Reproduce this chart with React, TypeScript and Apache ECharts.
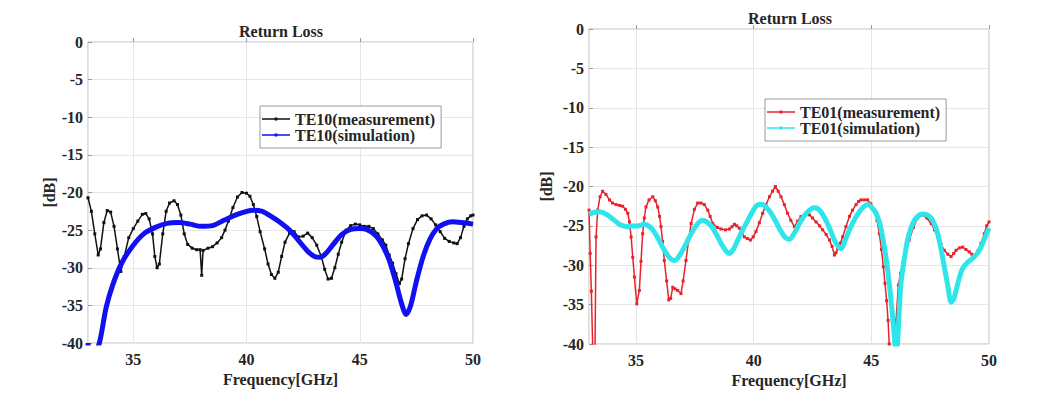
import React, { useEffect, useRef } from "react";
import * as echarts from "echarts";

const TITLE = "Return Loss";
const X_NAME = "Frequency[GHz]";
const Y_NAME = "[dB]";
const NAMES_LEFT = ["TE10(measurement)", "TE10(simulation)"];
const NAMES_RIGHT = ["TE01(measurement)", "TE01(simulation)"];

const te10Meas: number[][] = [
  [33.0,-20.7],[33.15,-22.5],[33.3,-25.5],[33.45,-28.3],[33.55,-27.5],[33.7,-24.0],[33.85,-22.4],[34.0,-22.6],[34.15,-24.5],[34.3,-27.5],[34.45,-30.5],[34.6,-28.5],[34.8,-26.0],[35.0,-24.8],[35.2,-23.8],[35.4,-22.9],[35.55,-22.8],[35.7,-23.5],[35.85,-25.5],[35.95,-28.5],[36.05,-30.0],[36.15,-29.5],[36.3,-25.5],[36.45,-22.5],[36.6,-21.4],[36.8,-21.1],[36.95,-21.6],[37.1,-23.0],[37.25,-25.5],[37.4,-26.9],[37.6,-27.4],[37.8,-27.6],[37.95,-27.6],[38.02,-31.0],[38.08,-27.7],[38.3,-27.4],[38.5,-27.2],[38.7,-26.7],[38.9,-26.0],[39.05,-25.0],[39.2,-23.8],[39.4,-22.0],[39.6,-20.6],[39.8,-20.0],[40.0,-20.1],[40.15,-20.5],[40.3,-21.6],[40.45,-23.2],[40.6,-25.2],[40.8,-27.5],[40.95,-29.5],[41.1,-30.9],[41.25,-31.4],[41.4,-30.6],[41.55,-28.5],[41.7,-26.6],[41.9,-25.4],[42.1,-25.2],[42.3,-25.9],[42.5,-25.8],[42.7,-25.4],[42.9,-26.0],[43.1,-27.0],[43.3,-28.5],[43.45,-30.2],[43.6,-31.5],[43.75,-31.4],[43.9,-30.0],[44.05,-28.2],[44.2,-26.6],[44.4,-25.0],[44.6,-24.4],[44.8,-24.2],[45.0,-24.3],[45.2,-24.5],[45.4,-24.5],[45.6,-24.8],[45.8,-25.5],[46.0,-26.3],[46.15,-27.0],[46.3,-28.3],[46.45,-29.4],[46.6,-30.8],[46.75,-32.1],[46.85,-31.5],[47.0,-28.8],[47.15,-26.8],[47.35,-24.8],[47.55,-23.6],[47.75,-23.1],[47.95,-23.0],[48.15,-23.5],[48.35,-24.3],[48.55,-25.2],[48.75,-26.1],[48.95,-26.5],[49.15,-26.7],[49.3,-26.8],[49.45,-26.0],[49.6,-24.5],[49.75,-23.5],[49.9,-23.1],[50.0,-23.0]
];

const te10Sim: number[][] = [
  [33.0,-40],[33.1,-43],[33.5,-40],[33.8,-35.3],[34.1,-32.2],[34.5,-29.3],[35.0,-27.0],[35.5,-25.4],[36.0,-24.6],[36.5,-24.1],[37.0,-24.0],[37.5,-24.2],[38.0,-24.5],[38.5,-24.4],[39.0,-23.7],[39.5,-23.0],[40.0,-22.5],[40.3,-22.35],[40.7,-22.5],[41.0,-23.0],[41.4,-23.8],[41.9,-25.0],[42.3,-26.4],[42.7,-27.8],[43.0,-28.5],[43.25,-28.6],[43.5,-28.1],[43.8,-27.0],[44.2,-25.6],[44.6,-24.9],[45.0,-24.8],[45.3,-24.9],[45.7,-25.7],[46.0,-27.0],[46.3,-29.0],[46.6,-32.0],[46.85,-34.8],[47.05,-36.2],[47.25,-35.0],[47.5,-31.8],[47.8,-28.5],[48.1,-26.2],[48.4,-24.8],[48.7,-24.2],[49.1,-23.9],[49.5,-24.0],[50.0,-24.2]
];

const te01Meas: number[][] = [
  [33.0,-23.0],[33.05,-28.5],[33.1,-33.3],[33.17,-42],[33.25,-42],[33.3,-26.4],[33.37,-23.0],[33.47,-21.3],[33.58,-20.6],[33.72,-21.0],[33.87,-21.7],[34.0,-22.1],[34.15,-22.3],[34.3,-22.4],[34.43,-22.5],[34.55,-22.9],[34.65,-23.4],[34.72,-24.5],[34.79,-26.4],[34.86,-29.0],[34.93,-31.5],[35.03,-34.9],[35.14,-33.2],[35.21,-29.5],[35.28,-26.0],[35.35,-24.0],[35.42,-22.6],[35.55,-21.7],[35.71,-21.3],[35.82,-21.8],[35.92,-22.6],[36.0,-23.8],[36.06,-25.1],[36.13,-27.0],[36.2,-29.4],[36.3,-32.0],[36.39,-34.4],[36.47,-34.2],[36.56,-32.8],[36.66,-33.0],[36.77,-33.2],[36.91,-33.6],[37.0,-32.0],[37.12,-29.4],[37.23,-26.9],[37.34,-24.7],[37.48,-22.9],[37.62,-22.1],[37.76,-22.1],[37.9,-22.3],[38.05,-23.0],[38.15,-23.8],[38.26,-24.7],[38.45,-25.2],[38.61,-25.4],[38.8,-25.5],[38.97,-25.4],[39.08,-25.1],[39.18,-24.8],[39.28,-25.0],[39.39,-25.3],[39.5,-25.9],[39.6,-26.4],[39.73,-26.6],[39.86,-26.8],[39.98,-26.4],[40.1,-25.7],[40.24,-24.6],[40.38,-23.4],[40.52,-22.3],[40.67,-21.3],[40.8,-20.6],[40.92,-20.0],[41.04,-20.6],[41.16,-21.3],[41.3,-22.3],[41.44,-23.4],[41.58,-24.3],[41.73,-25.1],[41.87,-24.4],[42.01,-23.8],[42.2,-23.6],[42.37,-23.6],[42.5,-24.0],[42.65,-24.5],[42.8,-25.0],[42.93,-25.5],[43.08,-26.1],[43.22,-26.8],[43.33,-27.6],[43.43,-28.7],[43.5,-28.4],[43.57,-27.9],[43.68,-27.2],[43.78,-26.4],[43.92,-25.1],[44.07,-23.8],[44.2,-23.0],[44.35,-22.3],[44.46,-21.9],[44.56,-21.7],[44.7,-21.7],[44.84,-21.7],[44.98,-22.2],[45.13,-23.0],[45.24,-24.3],[45.34,-26.0],[45.43,-28.0],[45.51,-30.2],[45.58,-32.3],[45.65,-34.5],[45.71,-37.0],[45.76,-40.0],[45.85,-44],[45.95,-43],[46.05,-37],[46.15,-32.5],[46.24,-31.0],[46.33,-29.8],[46.47,-28.2],[46.61,-26.8],[46.79,-25.2],[46.97,-24.0],[47.08,-23.7],[47.18,-23.6],[47.36,-24.0],[47.54,-24.7],[47.68,-25.5],[47.82,-26.4],[47.96,-27.3],[48.1,-28.1],[48.25,-28.6],[48.39,-28.9],[48.5,-28.5],[48.6,-28.1],[48.74,-27.8],[48.88,-27.7],[49.02,-28.0],[49.16,-28.3],[49.27,-28.6],[49.38,-28.9],[49.52,-28.2],[49.66,-27.2],[49.8,-26.0],[49.9,-25.0],[50.0,-24.5]
];

const te01Sim: number[][] = [
  [33.0,-23.5],[33.2,-23.3],[33.44,-23.2],[33.65,-23.4],[33.87,-23.8],[34.08,-24.3],[34.29,-24.8],[34.47,-25.0],[34.65,-25.1],[34.85,-25.0],[35.07,-25.0],[35.35,-24.8],[35.53,-25.0],[35.71,-25.5],[35.92,-26.5],[36.13,-27.7],[36.38,-28.9],[36.63,-29.4],[36.84,-28.8],[37.05,-27.7],[37.27,-26.4],[37.48,-25.3],[37.65,-24.6],[37.83,-24.3],[38.0,-24.5],[38.19,-25.0],[38.4,-26.0],[38.61,-27.2],[38.8,-28.1],[38.97,-28.5],[39.15,-27.9],[39.32,-26.8],[39.55,-25.4],[39.75,-24.3],[39.93,-23.3],[40.1,-22.5],[40.25,-22.3],[40.38,-22.3],[40.55,-22.7],[40.74,-23.4],[40.95,-24.5],[41.16,-25.7],[41.35,-26.5],[41.52,-26.7],[41.73,-25.9],[41.94,-24.7],[42.15,-23.7],[42.37,-23.0],[42.55,-22.7],[42.72,-22.8],[42.9,-23.4],[43.07,-24.3],[43.25,-25.5],[43.43,-26.8],[43.58,-27.6],[43.71,-27.9],[43.88,-26.9],[44.07,-25.5],[44.28,-24.2],[44.49,-23.2],[44.67,-22.6],[44.84,-22.3],[45.0,-22.6],[45.2,-23.4],[45.34,-24.5],[45.48,-26.4],[45.62,-29.0],[45.76,-32.3],[45.88,-35.8],[45.98,-39.1],[46.05,-41.5],[46.12,-39.5],[46.19,-35.5],[46.26,-32.3],[46.4,-29.2],[46.54,-26.8],[46.68,-25.3],[46.83,-24.3],[47.0,-23.7],[47.18,-23.5],[47.36,-23.6],[47.54,-24.0],[47.68,-24.8],[47.82,-26.0],[47.96,-27.9],[48.1,-30.2],[48.25,-32.6],[48.39,-34.7],[48.5,-34.3],[48.6,-33.2],[48.74,-31.6],[48.88,-30.4],[49.1,-29.6],[49.31,-29.1],[49.5,-28.5],[49.66,-27.7],[49.83,-26.5],[50.0,-25.3]
];

const X_MIN = 33;
const X_MAX = 50;
const Y_MIN = -40;
const Y_MAX = 0;

const FONT = "'Liberation Serif', 'Times New Roman', serif";
const TXT = "#262626";
const LEGEND_ICON =
  "path://M0 0 L0 0 Z M28 8 L28 8 Z M0 3.3 L28 3.3 L28 4.7 L0 4.7 Z M12.6 2.6 L15.4 2.6 L15.4 5.4 L12.6 5.4 Z";

export default function App() {
  const ref = useRef<HTMLDivElement>(null);
  useEffect(() => {
    if (!ref.current) return;
    const chart = echarts.init(ref.current, undefined, { renderer: "svg" });
    const labelStyle = { fontFamily: FONT, fontSize: 16, fontWeight: "bold", color: TXT };
    const mkX = (gridIndex: number, gap: number) => ({
      type: "value",
      gridIndex,
      min: X_MIN,
      max: X_MAX,
      splitNumber: 3,
      name: X_NAME,
      nameLocation: "middle",
      nameGap: gap,
      nameTextStyle: labelStyle,
      axisLine: { show: false },
      axisTick: { show: true, inside: true, length: 4, lineStyle: { color: "#999" } },
      axisLabel: { ...labelStyle, margin: 8, showMinLabel: false },
      splitLine: { show: true, lineStyle: { color: "#e6e6e6", width: 1 } },
    });
    const mkY = (gridIndex: number, gap: number) => ({
      type: "value",
      gridIndex,
      min: Y_MIN,
      max: Y_MAX,
      interval: 5,
      name: Y_NAME,
      nameLocation: "middle",
      nameGap: gap,
      nameRotate: 90,
      nameTextStyle: labelStyle,
      axisLine: { show: false },
      axisTick: { show: true, inside: true, length: 4, lineStyle: { color: "#999" } },
      axisLabel: { ...labelStyle, margin: 5 },
      splitLine: { show: true, lineStyle: { color: "#e6e6e6", width: 1 } },
    });
    const legendBase = {
      orient: "vertical",
      icon: LEGEND_ICON,
      itemWidth: 28,
      itemHeight: 8,
      itemGap: 0,
      borderColor: "#9a9a9a",
      borderWidth: 1,
      backgroundColor: "#fff",
      borderRadius: 0,
      textStyle: { ...labelStyle, lineHeight: 15 },
    };
    chart.setOption({
      animation: false,
      backgroundColor: "#fff",
      grid: [
        { left: 88, top: 42, width: 385, height: 301, show: true, borderColor: "#bdbdbd", borderWidth: 1, backgroundColor: "#fff" },
        { left: 589, top: 29, width: 400, height: 315, show: true, borderColor: "#bdbdbd", borderWidth: 1, backgroundColor: "#fff" },
      ],
      xAxis: [mkX(0, 26), mkX(1, 27)],
      yAxis: [mkY(0, 28), mkY(1, 35)],
      legend: [
        { ...legendBase, data: NAMES_LEFT, left: 260, top: 106, padding: [5, 6, 5, 2] },
        { ...legendBase, data: NAMES_RIGHT, left: 765, top: 99, padding: [5, 6, 5, 2] },
      ],
      graphic: [
        { type: "text", x: 281, y: 31, style: { text: TITLE, font: `bold 16px ${FONT}`, fill: TXT, align: "center", verticalAlign: "middle" } },
        { type: "text", x: 790, y: 18, style: { text: TITLE, font: `bold 16px ${FONT}`, fill: TXT, align: "center", verticalAlign: "middle" } },
      ],
      series: [
        {
          name: NAMES_LEFT[0], type: "line", xAxisIndex: 0, yAxisIndex: 0, data: te10Meas,
          symbol: "rect", symbolSize: 3, showSymbol: true,
          lineStyle: { color: "#111", width: 1.5 }, itemStyle: { color: "#111" }, z: 3,
        },
        {
          name: NAMES_LEFT[1], type: "line", xAxisIndex: 0, yAxisIndex: 0, data: te10Sim,
          symbol: "rect", symbolSize: 3, showSymbol: false, smooth: 0.3,
          lineStyle: { color: "#1010f0", width: 5 }, itemStyle: { color: "#1010f0" }, z: 4,
        },
        {
          name: NAMES_RIGHT[0], type: "line", xAxisIndex: 1, yAxisIndex: 1, data: te01Meas,
          symbol: "rect", symbolSize: 3, showSymbol: true,
          lineStyle: { color: "#e8222a", width: 1.5 }, itemStyle: { color: "#e8222a" }, z: 3,
        },
        {
          name: NAMES_RIGHT[1], type: "line", xAxisIndex: 1, yAxisIndex: 1, data: te01Sim,
          symbol: "rect", symbolSize: 3, showSymbol: false, smooth: 0.3,
          lineStyle: { color: "#2ee6ea", width: 5 }, itemStyle: { color: "#2ee6ea" }, z: 4,
        },
      ],
    });
    return () => chart.dispose();
  }, []);
  return (
    <div
      ref={ref}
      style={{ position: "fixed", left: 0, top: 0, width: 1061, height: 399, background: "#fff" }}
    />
  );
}
